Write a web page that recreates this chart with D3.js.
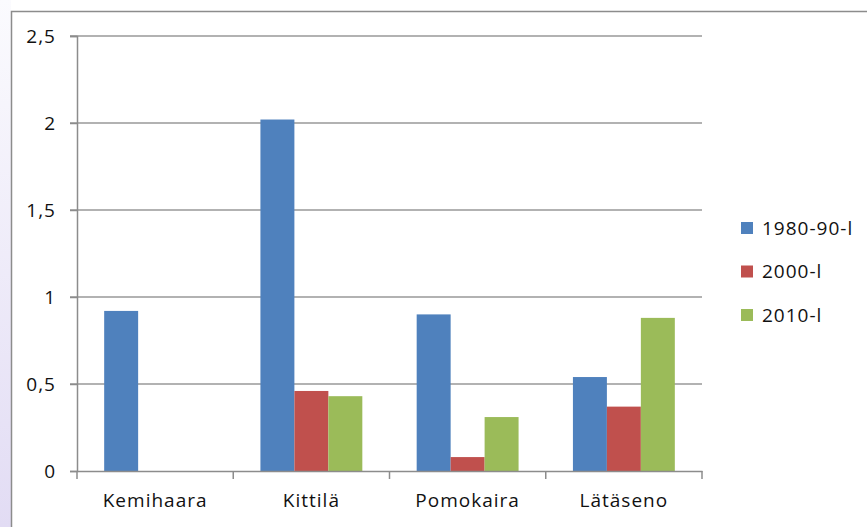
<!DOCTYPE html>
<html>
<head>
<meta charset="utf-8">
<script src="https://cdn.jsdelivr.net/npm/d3@7"></script>
<style>
  body { margin: 0; background: #fff; }
  svg text { font-family: "Open Sans", "Noto Sans", sans-serif; fill: #111; }
</style>
</head>
<body>
<svg id="chart" width="867" height="527"></svg>
<script>
// data
const categories = ["Kemihaara", "Kittilä", "Pomokaira", "Lätäseno"];
const seriesNames = ["1980-90-l", "2000-l", "2010-l"];
const values1980 = [0.92, 2.02, 0.90, 0.54];
const values2000 = [0, 0.46, 0.08, 0.37];
const values2010 = [0, 0.43, 0.31, 0.88];
const yTicks = [0, 0.5, 1, 1.5, 2, 2.5];
const colors = ["#4f81bd", "#c0504d", "#9bbb59"];

const allSeries = [values1980, values2000, values2010];

const svg = d3.select("#chart");

// lavender strip on the left edge
const defs = svg.append("defs");
const grad = defs.append("linearGradient")
    .attr("id", "side").attr("x1", 0).attr("y1", 0).attr("x2", 0).attr("y2", 1);
grad.append("stop").attr("offset", "0%").attr("stop-color", "#fbfbfe");
grad.append("stop").attr("offset", "100%").attr("stop-color", "#e2dcf4");
svg.append("rect").attr("x", 0).attr("y", 0).attr("width", 11).attr("height", 527)
    .attr("fill", "url(#side)");

// chart frame
svg.append("rect")
    .attr("x", 11.5).attr("y", 11.5).attr("width", 900).attr("height", 600)
    .attr("fill", "#fff").attr("stroke", "#8c8c8c").attr("stroke-width", 1.5);

const plotLeft = 77, plotRight = 702, plotTop = 36, plotBottom = 471;

const x = d3.scaleBand().domain(categories).range([plotLeft, plotRight]);
const y = d3.scaleLinear().domain([0, 2.5]).range([plotBottom, plotTop]);

const inner = d3.scaleBand().domain(d3.range(seriesNames.length))
    .range([0, x.bandwidth()]).paddingOuter(0.8).paddingInner(0);

// gridlines
svg.append("g").selectAll("line")
    .data(yTicks.slice(1))
    .join("line")
      .attr("x1", plotLeft - 7).attr("x2", plotRight)
      .attr("y1", d => y(d)).attr("y2", d => y(d))
      .attr("stroke", "#999").attr("stroke-width", 1.5);

// bars
svg.append("g").selectAll("g")
    .data(allSeries)
    .join("g")
      .attr("fill", (d, i) => colors[i])
    .each(function(vals, si) {
      d3.select(this).selectAll("rect")
        .data(vals)
        .join("rect")
          .attr("x", (d, ci) => x(categories[ci]) + inner(si))
          .attr("width", inner.bandwidth())
          .attr("y", d => y(d))
          .attr("height", d => y(0) - y(d));
    });

// y axis
const yAxis = svg.append("g").attr("transform", `translate(${plotLeft},0)`)
    .call(d3.axisLeft(y).tickValues(yTicks).tickSize(7).tickPadding(14)
      .tickFormat(d => String(d).replace(".", ",")));
yAxis.select(".domain").attr("stroke", "#8c8c8c").attr("stroke-width", 1.5);
yAxis.selectAll(".tick line").attr("stroke", "#8c8c8c").attr("stroke-width", 1.5);
yAxis.selectAll("text").style("font-size", "19px").style("letter-spacing", "1px").attr("dy", "0.36em");

// x axis
const xAxis = svg.append("g").attr("transform", `translate(0,${plotBottom})`)
    .call(d3.axisBottom(x).tickSize(0).tickPadding(23));
xAxis.select(".domain").attr("stroke", "#8c8c8c").attr("stroke-width", 1.5);
xAxis.selectAll("text").style("font-size", "19px").style("letter-spacing", "1px");
svg.append("g").selectAll("line")
    .data(categories.map(c => x(c)).concat([plotRight]))
    .join("line")
      .attr("x1", d => d).attr("x2", d => d)
      .attr("y1", plotBottom).attr("y2", plotBottom + 8)
      .attr("stroke", "#8c8c8c").attr("stroke-width", 1.5);

// legend
const legend = svg.append("g").selectAll("g")
    .data(seriesNames)
    .join("g")
      .attr("transform", (d, i) => `translate(741,${228 + i * 43.5})`);
legend.append("rect")
    .attr("x", 0).attr("y", -6).attr("width", 12).attr("height", 12)
    .attr("fill", (d, i) => colors[i]);
legend.append("text")
    .attr("x", 21).attr("dy", "0.36em")
    .style("font-size", "19px").style("letter-spacing", "1px")
    .text(d => d);
</script>
</body>
</html>
